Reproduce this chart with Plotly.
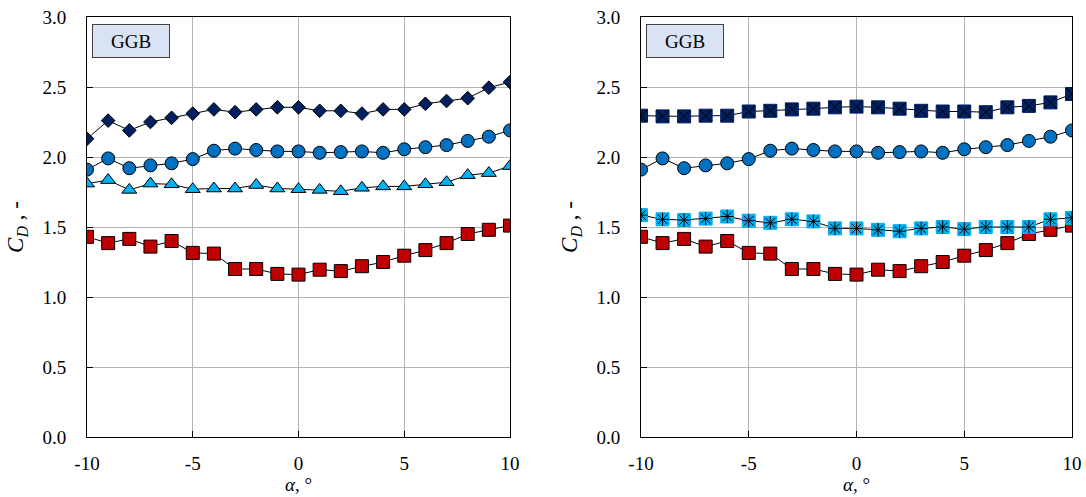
import plotly.graph_objects as go
from plotly.subplots import make_subplots

# angle of attack, deg
alpha = list(range(-10, 11))

# left panel series
cd_diamond = [2.13, 2.26, 2.19, 2.25, 2.28, 2.31, 2.34, 2.32, 2.34, 2.355, 2.355,
              2.33, 2.33, 2.31, 2.34, 2.34, 2.38, 2.40, 2.42, 2.495, 2.535]
cd_circle = [1.91, 1.99, 1.92, 1.94, 1.955, 1.985, 2.045, 2.06, 2.05, 2.04, 2.04,
             2.03, 2.035, 2.04, 2.03, 2.055, 2.07, 2.085, 2.115, 2.145, 2.19]
cd_triangle = [1.81, 1.835, 1.765, 1.81, 1.805, 1.77, 1.775, 1.775, 1.80, 1.775, 1.77,
               1.765, 1.755, 1.78, 1.79, 1.79, 1.805, 1.82, 1.87, 1.885, 1.935]
cd_square = [1.43, 1.385, 1.415, 1.36, 1.40, 1.315, 1.31, 1.20, 1.20, 1.165, 1.16,
             1.195, 1.185, 1.22, 1.25, 1.295, 1.335, 1.385, 1.45, 1.48, 1.51]

# right panel extra series
cd_square_x = [2.295, 2.29, 2.29, 2.295, 2.295, 2.325, 2.33, 2.34, 2.345, 2.355, 2.36,
               2.355, 2.345, 2.33, 2.325, 2.325, 2.32, 2.355, 2.365, 2.39, 2.45]
cd_square_star = [1.585, 1.555, 1.55, 1.56, 1.575, 1.545, 1.53, 1.555, 1.54, 1.49, 1.49,
                  1.48, 1.47, 1.49, 1.50, 1.485, 1.50, 1.50, 1.50, 1.555, 1.565]

x_ticks = [-10, -5, 0, 5, 10]
x_ticklabels = ["-10", "-5", "0", "5", "10"]
y_ticks = [0.0, 0.5, 1.0, 1.5, 2.0, 2.5, 3.0]

NAVY = "#002060"
BLUE = "#0070c0"
CYAN = "#00b0f0"
RED = "#c00000"
FONT = "Liberation Serif"

fig = make_subplots(rows=1, cols=2)


def series(y, symbol, color, size, col, line_color="black"):
    fig.add_trace(go.Scatter(
        x=alpha, y=y, mode="lines+markers",
        line=dict(color="black", width=1),
        marker=dict(symbol=symbol, color=color, size=size,
                    line=dict(color=line_color, width=1)),
        showlegend=False), row=1, col=col)


def overlay(y, symbol, size, col):
    fig.add_trace(go.Scatter(
        x=alpha, y=y, mode="markers",
        marker=dict(symbol=symbol, color="black", size=size,
                    line=dict(color="black", width=1)),
        showlegend=False), row=1, col=col)


# left
series(cd_square, "square", RED, 13, 1)
series(cd_triangle, "triangle-up", CYAN, 13, 1)
series(cd_circle, "circle", BLUE, 13, 1)
series(cd_diamond, "diamond", NAVY, 10.5, 1)

# right
series(cd_square, "square", RED, 13, 2)
series(cd_square_star, "square", CYAN, 13, 2, line_color=CYAN)
overlay(cd_square_star, "asterisk-open", 11, 2)
series(cd_circle, "circle", BLUE, 13, 2)
series(cd_square_x, "square", NAVY, 13, 2, line_color=NAVY)
overlay(cd_square_x, "x-thin-open", 12, 2)

axis_common = dict(showline=True, linecolor="black", linewidth=1, mirror=True,
                   showgrid=True, gridcolor="#b4b4b4", gridwidth=1,
                   ticks="inside", ticklen=6, tickcolor="black",
                   tickfont=dict(family=FONT, size=19, color="black"),
                   ticklabeloverflow="allow",
                   zeroline=False, automargin=False)

W, H = 1086, 497
for i, (x0, x1) in enumerate([(87, 510), (641, 1072)], start=1):
    fig.update_xaxes(domain=[x0 / W, x1 / W], range=[-10, 10],
                     tickvals=x_ticks, ticktext=x_ticklabels, ticklabelstandoff=9,
                     title=dict(text="<i>α</i>, °", standoff=0,
                                font=dict(family=FONT, size=19, color="black")),
                     row=1, col=i, **axis_common)
    fig.update_yaxes(range=[0, 3], tickvals=y_ticks, tickformat=".1f", ticklabelstandoff=16,
                     title=dict(text="<i>C<sub>D</sub></i> , -", standoff=12,
                                font=dict(family=FONT, size=23, color="black")),
                     row=1, col=i, **axis_common)

for xr, yr in [("x domain", "y domain"), ("x2 domain", "y2 domain")]:
    fig.add_annotation(xref=xr, yref=yr, x=0.012, y=0.983, xanchor="left", yanchor="top",
                       text="GGB", showarrow=False, width=72, height=28,
                       font=dict(family=FONT, size=19, color="black"),
                       bgcolor="#dae3f3", bordercolor="#404040", borderwidth=1, borderpad=2)

fig.update_layout(width=W, height=H, margin=dict(l=0, r=0, t=17, b=60),
                  plot_bgcolor="white", paper_bgcolor="white",
                  font=dict(family=FONT, color="black"))

# drop the default body margin so the figure sits at the page corner
fig.write_html("out.html", config={"displayModeBar": False},
               post_script="document.body.style.margin='0';")
